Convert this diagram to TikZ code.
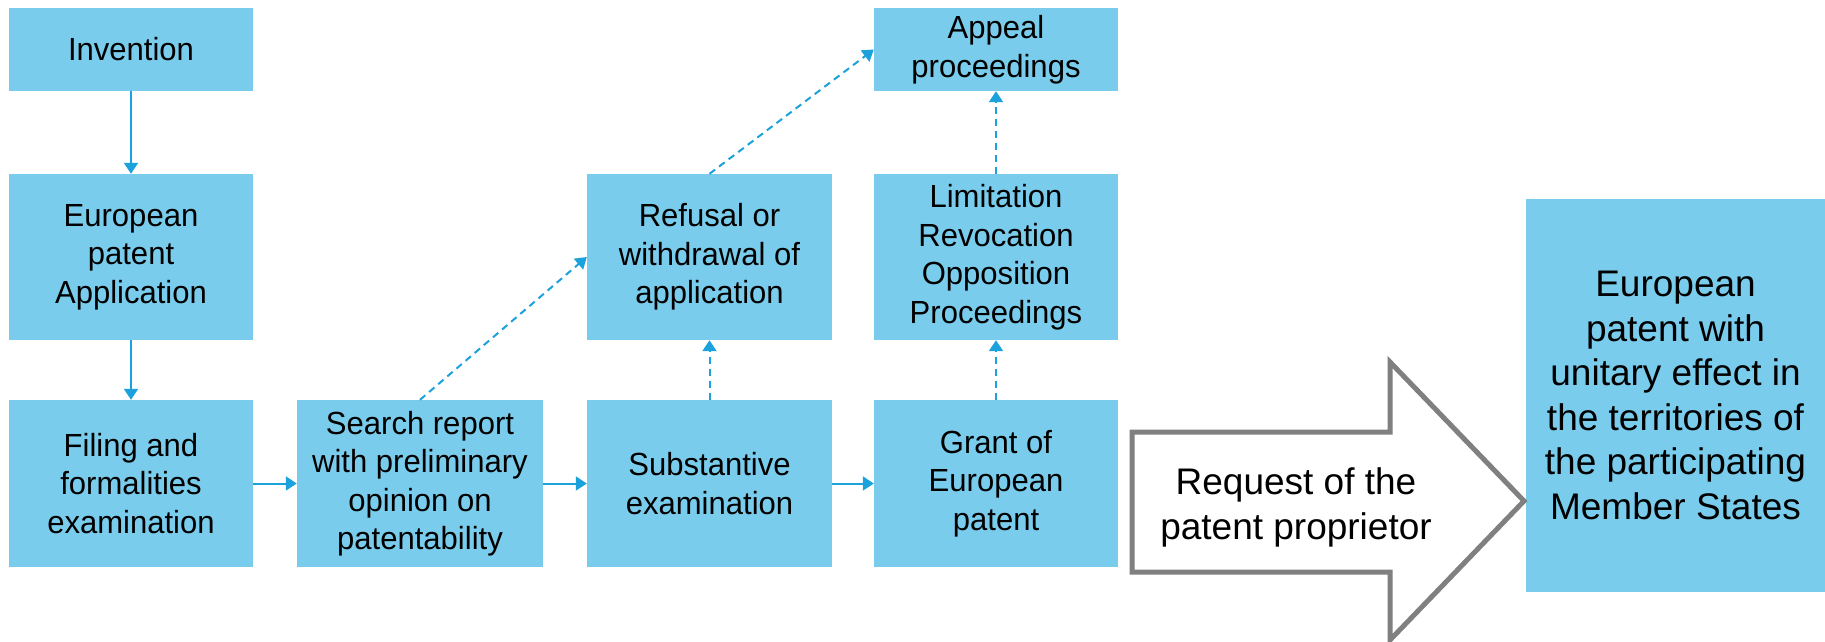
\documentclass[tikz,border=0pt]{standalone}
\usepackage{fontspec}
\setmainfont{Liberation Sans}
\newfontfamily\narrowfont[FakeStretch=0.97]{Liberation Sans}
\usetikzlibrary{arrows.meta}
\definecolor{boxblue}{RGB}{122,204,236}
\definecolor{lineblue}{RGB}{27,161,219}
\definecolor{arrowgray}{RGB}{128,128,128}
\tikzset{
  box/.style={fill=boxblue, draw=none, inner sep=0pt, align=center,
    font=\narrowfont\fontsize{32}{38.5}\selectfont},
  bigbox/.style={fill=boxblue, draw=none, inner sep=0pt, align=center,
    font=\fontsize{37}{44.5}\selectfont},
  flow/.style={draw=lineblue, line width=2pt, -{Triangle[length=11pt,width=14pt]}},
  dflow/.style={flow, dash pattern=on 7pt off 5pt}
}
\begin{document}
\begin{tikzpicture}[x=1pt,y=-1pt]
\useasboundingbox (0,0) rectangle (1825,641);
% top row
\node[box, minimum width=244pt, minimum height=83pt] (inv) at (131,49.5) {Invention};
\node[box, minimum width=244pt, minimum height=83pt] (app) at (996,49.5) {Appeal\\proceedings};
% middle row
\node[box, minimum width=244pt, minimum height=166pt] (epa) at (131,257) {European\\patent\\Application};
\node[box, minimum width=245pt, minimum height=166pt] (ref) at (709.5,257) {Refusal or\\withdrawal of\\application};
\node[box, minimum width=244pt, minimum height=166pt] (lim) at (996,257) {Limitation\\Revocation\\Opposition\\Proceedings};
% bottom row
\node[box, minimum width=244pt, minimum height=167pt] (fil) at (131,483.5) {Filing and\\formalities\\examination};
\node[box, minimum width=246pt, minimum height=167pt] (sea) at (420,483.5) {Search report\\with preliminary\\opinion on\\patentability};
\node[box, minimum width=245pt, minimum height=167pt] (sub) at (709.5,483.5) {Substantive\\examination};
\node[box, minimum width=244pt, minimum height=167pt] (gra) at (996,483.5) {Grant of\\European\\patent};
% final box
\node[bigbox, minimum width=299pt, minimum height=393pt] (fin) at (1675.5,395.5) {European\\patent with\\unitary effect in\\the territories of\\the participating\\Member States};
% connectors
\draw[flow] (inv) -- (epa);
\draw[flow] (epa) -- (fil);
\draw[flow] (fil) -- (sea);
\draw[flow] (sea) -- (sub);
\draw[flow] (sub) -- (gra);
\draw[dflow] (sea.north) -- (ref.west);
\draw[dflow] (sub) -- (ref);
\draw[dflow] (ref.north) -- (app.west);
\draw[dflow] (gra) -- (lim);
\draw[dflow] (lim) -- (app);
% block arrow
\draw[draw=arrowgray, fill=white, line width=5pt, line join=miter]
  (1132,432) -- (1390,432) -- (1390,362) -- (1524,501) -- (1390,640)
  -- (1390,572) -- (1132,572) -- cycle;
\node[align=center, inner sep=0pt, font=\fontsize{37}{45}\selectfont] (req) at (1296,507)
  {Request of the\\patent proprietor};
\end{tikzpicture}
\end{document}
